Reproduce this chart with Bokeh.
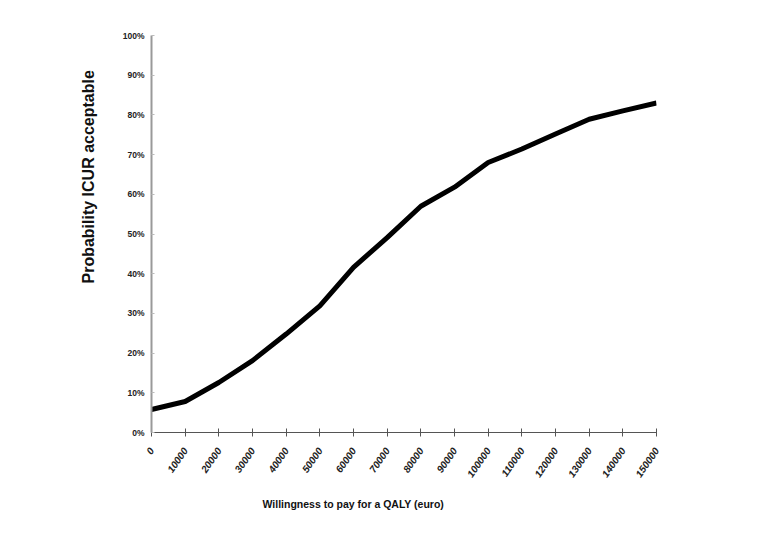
import math
from bokeh.plotting import figure
from bokeh.models import FixedTicker, NumeralTickFormatter, Title, Range1d
from bokeh.embed import file_html
from bokeh.resources import INLINE

wtp = [0, 10000, 20000, 30000, 40000, 50000, 60000, 70000, 80000,
       90000, 100000, 110000, 120000, 130000, 140000, 150000]
prob = [0.058, 0.078, 0.126, 0.181, 0.248, 0.319, 0.416, 0.491, 0.570,
        0.618, 0.680, 0.714, 0.752, 0.789, 0.810, 0.830]
x_tick_labels = [str(v) for v in wtp]
y_ticks = [0.0, 0.1, 0.2, 0.3, 0.4, 0.5, 0.6, 0.7, 0.8, 0.9, 1.0]

FONT = "Liberation Sans"

p = figure(width=758, height=525, output_backend="svg", toolbar_location=None,
           x_range=Range1d(0, 150000), y_range=Range1d(0, 1),
           min_border_left=151, min_border_right=102,
           min_border_top=35, min_border_bottom=93)
p.outline_line_color = None
p.xgrid.visible = False
p.ygrid.visible = False

p.line(wtp, prob, line_width=5, line_color="black", line_join="round")

# x axis
xa = p.xaxis[0]
xa.ticker = FixedTicker(ticks=wtp)
xa.major_label_overrides = {v: s for v, s in zip(wtp, x_tick_labels)}
xa.major_label_orientation = math.radians(55)
xa.axis_line_color = "#555555"
xa.axis_line_width = 1.2
xa.major_tick_line_color = "#555555"
xa.major_tick_in = 4
xa.major_tick_out = 4
xa.minor_tick_line_color = None
xa.major_label_text_font = FONT
xa.major_label_text_font_style = "bold italic"
xa.major_label_text_font_size = "10px"
xa.major_label_text_color = "#222222"
xa.major_label_standoff = 12

# y axis
ya = p.yaxis[0]
ya.ticker = FixedTicker(ticks=y_ticks)
ya.formatter = NumeralTickFormatter(format="0%")
ya.axis_line_color = "#999999"
ya.axis_line_width = 2
ya.major_tick_line_color = "#bbbbbb"
ya.major_tick_in = 3
ya.major_tick_out = 0
ya.minor_tick_line_color = None
ya.major_label_text_font = FONT
ya.major_label_text_font_style = "bold"
ya.major_label_text_font_size = "8.5px"
ya.major_label_text_color = "#222222"
ya.major_label_standoff = 7

# axis titles
p.add_layout(Title(text="Willingness to pay for a QALY (euro)", align="left",
                   offset=111, standoff=25,
                   text_font=FONT, text_font_style="bold", text_font_size="10.5px",
                   text_color="#111111"), "below")
p.add_layout(Title(text="Probability ICUR acceptable", align="left",
                   offset=149, standoff=45,
                   text_font=FONT, text_font_style="bold", text_font_size="16px",
                   text_color="#111111"), "left")

open("out.html", "w").write(file_html(p, INLINE))
